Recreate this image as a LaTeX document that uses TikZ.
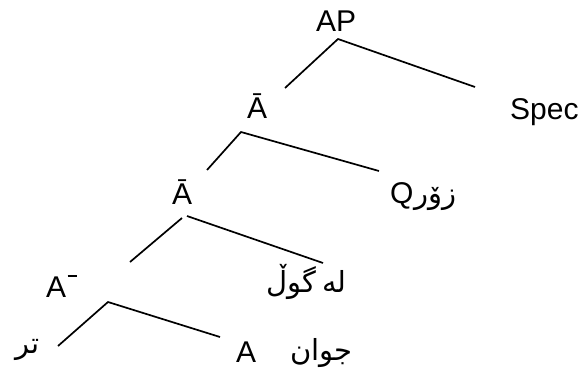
\documentclass[tikz,border=0pt]{standalone}
\usepackage{fontspec}
\setmainfont{Liberation Sans}
\newfontfamily\arabicfont[Script=Arabic]{DejaVu Sans}
\TeXXeTstate=1
\begin{document}
\begin{tikzpicture}[x=1pt,y=-1pt,
  lab/.style={font=\fontsize{30}{36}\selectfont, inner sep=0pt, anchor=base west},
  arab/.style={font=\fontsize{29}{34}\selectfont\arabicfont, inner sep=0pt, anchor=base east},
  branch/.style={line width=1.7pt}]
\useasboundingbox (0,0) rectangle (584,369);
% labels
\node[lab] (AP) at (316,32) {AP};
\node[lab] (Abar1) at (247,118) {Ā};
\node[lab] (Spec) at (510,120) {Spec};
\node[lab] (Q) at (390,203) {Q};
\node[arab, anchor=base west] (zor) at ([xshift=1pt]Q.base east) {\beginR زۆر\endR};
\node[lab] (Abar2) at (172,204) {Ā};
\node[arab] (lagul) at (347,292) {\beginR له\kern-3pt\ گوڵ\endR};
\node[lab] (Aminus) at (46,297) {A\kern1.5pt\rule[19.8pt]{9pt}{1.8pt}};
\node[arab] (tr) at (40,353) {\beginR تر\endR};
\node[lab] (A) at (236,362) {A};
\node[arab] (jwan) at (353,360) {\beginR جوان\endR};
% branch points
\coordinate (b1) at (338,39);
\coordinate (b1l) at (285,88);
\coordinate (b1r) at (475,87);
\coordinate (b2) at (241,132);
\coordinate (b2l) at (207,170);
\coordinate (b2r) at (379,171);
\coordinate (b3) at (182,218);
\coordinate (b3a) at (187,216);
\coordinate (b3l) at (130,262);
\coordinate (b3r) at (323,263);
\coordinate (b4) at (108,302);
\coordinate (b4l) at (58,346);
\coordinate (b4r) at (220,337);
% branches
\draw[branch] (b1l) -- (b1) -- (b1r);
\draw[branch] (b2l) -- (b2) -- (b2r);
\draw[branch] (b3l) -- (b3);
\draw[branch] (b3a) -- (b3r);
\draw[branch] (b4l) -- (b4) -- (b4r);
\end{tikzpicture}
\end{document}
